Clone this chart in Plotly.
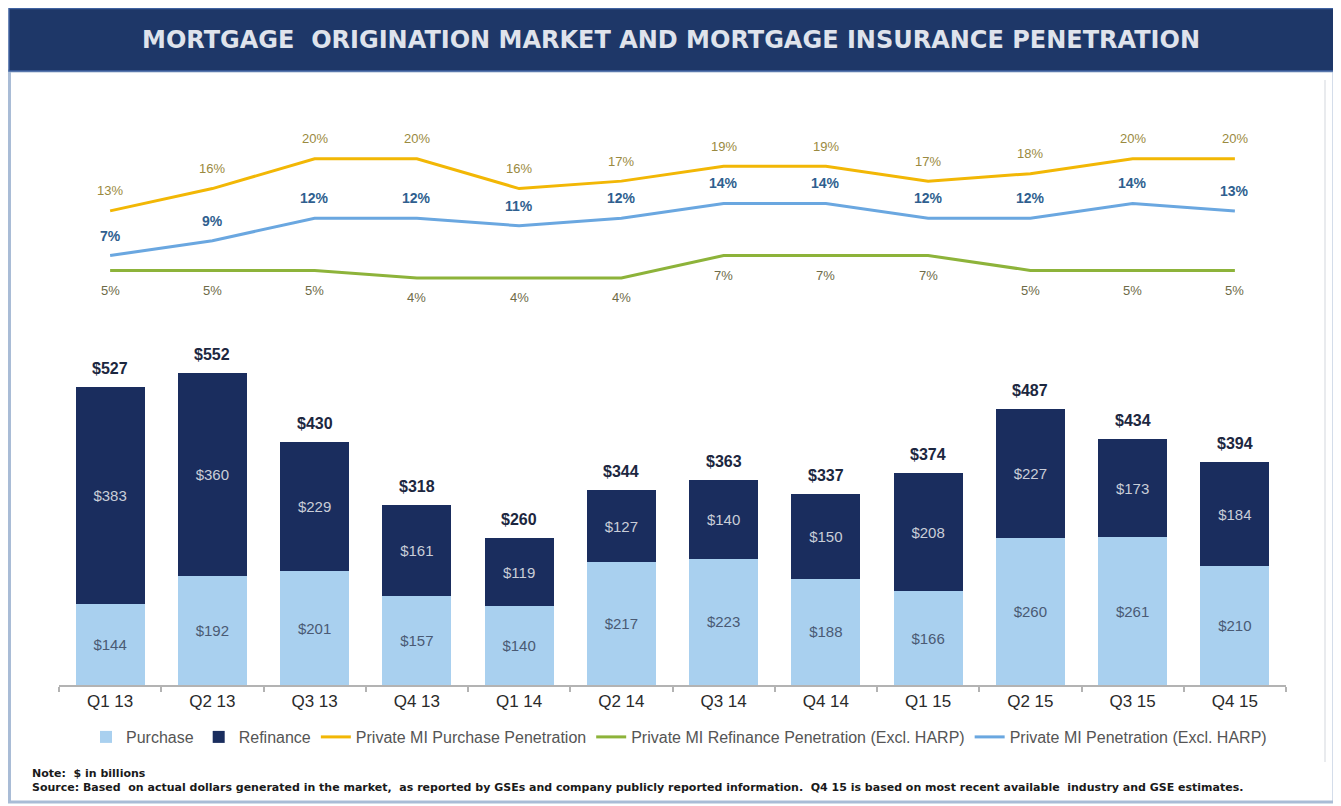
import plotly.graph_objects as go

# ---------------- data ----------------
quarters = ["Q1 13", "Q2 13", "Q3 13", "Q4 13", "Q1 14", "Q2 14",
            "Q3 14", "Q4 14", "Q1 15", "Q2 15", "Q3 15", "Q4 15"]
purchase = [144, 192, 201, 157, 140, 217, 223, 188, 166, 260, 261, 210]
refinance = [383, 360, 229, 161, 119, 127, 140, 150, 208, 227, 173, 184]
totals = [527, 552, 430, 318, 260, 344, 363, 337, 374, 487, 434, 394]
mi_purchase_pen = [13, 16, 20, 20, 16, 17, 19, 19, 17, 18, 20, 20]
mi_refi_pen = [5, 5, 5, 4, 4, 4, 7, 7, 7, 5, 5, 5]
mi_pen = [7, 9, 12, 12, 11, 12, 14, 14, 12, 12, 14, 13]

title_text = "MORTGAGE\u00a0\u00a0ORIGINATION MARKET AND MORTGAGE INSURANCE PENETRATION"
note_text = "Note:  $ in billions"
source_text = ("Source: Based  on actual dollars generated in the market,  as reported by GSEs and company publicly "
               "reported information.  Q4 15 is based on most recent available  industry and GSE estimates.")

# ---------------- styling ----------------
# page body has an 8px margin, so the figure is 8px smaller and positions are offset
OFF = 8
W, H = 1341 - OFF, 806 - OFF
def px(x):
    return (x - OFF) / W
def py(y):
    return 1 - (y - OFF) / H

NAVY = "#1a2d5e"
LIGHT = "#a9d0ef"
YELLOW = "#f2b705"
GREEN = "#8db33a"
BLUE = "#6aa7e0"
FONT = "Liberation Sans, Arial, sans-serif"

fig = go.Figure()

fig.add_trace(go.Bar(
    x=quarters, y=purchase, name="Purchase", marker_color=LIGHT,
    marker_line_width=0,
    text=[f"${v}" for v in purchase], textposition="inside",
    insidetextanchor="middle", textangle=0,
    textfont=dict(size=15, color="#4a5a74", family=FONT),
))
fig.add_trace(go.Bar(
    x=quarters, y=refinance, name="Refinance", marker_color=NAVY,
    marker_line_width=0,
    text=[f"${v}" for v in refinance], textposition="inside",
    insidetextanchor="middle", textangle=0,
    textfont=dict(size=15, color="#c9cdd8", family=FONT),
))
fig.add_trace(go.Scatter(
    x=quarters, y=mi_purchase_pen, name="Private MI Purchase Penetration",
    mode="lines", line=dict(color=YELLOW, width=3), yaxis="y2",
))
fig.add_trace(go.Scatter(
    x=quarters, y=mi_refi_pen, name="Private MI Refinance Penetration (Excl. HARP)",
    mode="lines", line=dict(color=GREEN, width=3), yaxis="y2",
))
fig.add_trace(go.Scatter(
    x=quarters, y=mi_pen, name="Private MI Penetration (Excl. HARP)",
    mode="lines", line=dict(color=BLUE, width=3), yaxis="y2",
))

annotations = []
# totals above the bars
for q, t in zip(quarters, totals):
    annotations.append(dict(x=q, y=t, xref="x", yref="y", text=f"<b>${t}</b>",
                            showarrow=False, yanchor="bottom", yshift=8,
                            font=dict(size=16, color="#1c2740", family=FONT)))
# line labels
for q, v in zip(quarters, mi_purchase_pen):
    annotations.append(dict(x=q, y=v, xref="x", yref="y2", text=f"{v}%",
                            showarrow=False, yanchor="middle", yshift=20,
                            font=dict(size=13, color="#9a8a40", family=FONT)))
for q, v in zip(quarters, mi_pen):
    annotations.append(dict(x=q, y=v, xref="x", yref="y2", text=f"<b>{v}%</b>",
                            showarrow=False, yanchor="middle", yshift=20,
                            font=dict(size=14, color="#2f5f8f", family=FONT)))
for q, v in zip(quarters, mi_refi_pen):
    annotations.append(dict(x=q, y=v, xref="x", yref="y2", text=f"{v}%",
                            showarrow=False, yanchor="middle", yshift=-20,
                            font=dict(size=13, color="#6e6b48", family=FONT)))

# title and notes
annotations.append(dict(x=px(671), y=py(40), xref="paper", yref="paper",
                        text=f"<b>{title_text}</b>", showarrow=False,
                        xanchor="center", yanchor="middle",
                        font=dict(size=24, color="#dfe3ec", family="DejaVu Sans, sans-serif")))
annotations.append(dict(x=px(30), y=py(773), xref="paper", yref="paper",
                        text=f"<b>{note_text}</b>", showarrow=False,
                        xanchor="left", yanchor="middle",
                        font=dict(size=11, color="#1a1a1a", family="DejaVu Sans, sans-serif")))
annotations.append(dict(x=px(30), y=py(787), xref="paper", yref="paper",
                        text=f"<b>{source_text}</b>", showarrow=False,
                        xanchor="left", yanchor="middle",
                        font=dict(size=11, color="#1a1a1a", family="DejaVu Sans, sans-serif")))

shapes = [
    # panel border
    dict(type="rect", xref="paper", yref="paper", x0=px(9.5), x1=px(1334),
         y0=py(802), y1=py(71), line=dict(color="#a9bcd6", width=3),
         fillcolor="rgba(0,0,0,0)", layer="below"),
    # title banner
    dict(type="rect", xref="paper", yref="paper", x0=px(9), x1=px(1334.5),
         y0=py(71), y1=py(8.5), line=dict(color="#3f62a0", width=1.5),
         fillcolor="#1e3768", layer="below"),
    # faint inner line at right
    dict(type="line", xref="paper", yref="paper", x0=px(1325), x1=px(1325),
         y0=py(762), y1=py(80), line=dict(color="#e2e4e8", width=1.5)),
]

fig.update_layout(
    width=W, height=H, autosize=False,
    margin=dict(l=0, r=0, t=0, b=0),
    paper_bgcolor="white", plot_bgcolor="white",
    barmode="stack", bargap=0.325,
    font=dict(family=FONT, color="#333333"),
    xaxis=dict(domain=[px(59), px(1286)], showgrid=False, zeroline=False,
               showline=True, linecolor="#b3b3b3", linewidth=1.5,
               ticks="outside", tickson="boundaries", ticklen=5,
               tickcolor="#b3b3b3", tickwidth=1.5,
               tickfont=dict(size=17, color="#2a2a2a", family=FONT),
               range=[-0.5, 11.5]),
    yaxis=dict(domain=[py(685), py(100)], range=[0, 1034], visible=False,
               showgrid=False, zeroline=False),
    yaxis2=dict(domain=[py(685), py(100)], range=[-50.7, 27.9], overlaying="y",
                visible=False, showgrid=False, zeroline=False),
    legend=dict(orientation="h", x=px(679), xanchor="center",
                y=py(737), yanchor="middle", traceorder="normal",
                font=dict(size=16, color="#555555", family=FONT),
                bgcolor="rgba(0,0,0,0)"),
    annotations=annotations,
    shapes=shapes,
)

fig.write_html("out.html")
